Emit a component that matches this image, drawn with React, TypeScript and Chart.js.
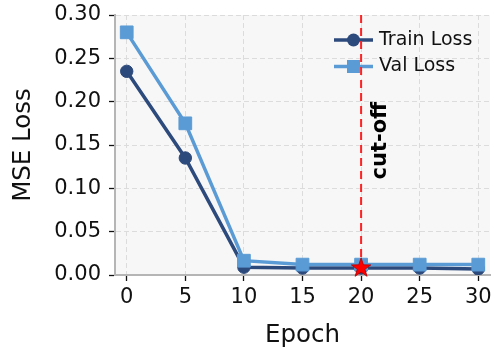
import React, { useEffect, useRef } from "react";
import { Chart, registerables } from "chart.js";

Chart.register(...registerables);

const epochs = [0, 5, 10, 15, 20, 25, 30];
const trainLoss = [0.235, 0.135, 0.009, 0.008, 0.008, 0.008, 0.007];
const valLoss = [0.28, 0.175, 0.0165, 0.012, 0.012, 0.012, 0.012];
const xTickValues = [0, 5, 10, 15, 20, 25, 30];
const yTickValues = [0, 0.05, 0.1, 0.15, 0.2, 0.25, 0.3];
const seriesLabels = ["Train Loss", "Val Loss"];
const cutoffEpoch = 20;
const cutoffLoss = 0.008;
const cutoffLabel = "cut-off";
const cutoffLabelLoss = 0.155;
const xTitle = "Epoch";
const yTitle = "MSE Loss";

const TRAIN_COLOR = "#2d4a7c";
const VAL_COLOR = "#5b9bd5";
const FONT = "'DejaVu Sans', sans-serif";

function drawStar(ctx: CanvasRenderingContext2D, cx: number, cy: number, R: number, r: number) {
  ctx.beginPath();
  for (let i = 0; i < 10; i++) {
    const rad = i % 2 === 0 ? R : r;
    const ang = -Math.PI / 2 + (i * Math.PI) / 5;
    const px = cx + rad * Math.cos(ang);
    const py = cy + rad * Math.sin(ang);
    if (i === 0) ctx.moveTo(px, py);
    else ctx.lineTo(px, py);
  }
  ctx.closePath();
}

const overlayPlugin = {
  id: "overlay",
  beforeDraw(chart: any) {
    const { ctx, chartArea: a } = chart;
    ctx.save();
    ctx.fillStyle = "#f7f7f7";
    ctx.fillRect(a.left, a.top, a.right - a.left, a.bottom - a.top);
    ctx.restore();
  },
  afterDatasetsDraw(chart: any) {
    const { ctx, chartArea: a, scales } = chart;
    const x = scales.x;
    const y = scales.y;

    // legend
    const lx0 = a.right - 156;
    const lx1 = a.right - 117;
    const mx = (lx0 + lx1) / 2;
    const tx = a.right - 111;
    const rows = [
      { yy: a.top + 25, color: TRAIN_COLOR, style: "circle", label: seriesLabels[0] },
      { yy: a.top + 51.5, color: VAL_COLOR, style: "rect", label: seriesLabels[1] },
    ];
    ctx.save();
    for (const row of rows) {
      ctx.strokeStyle = row.color;
      ctx.lineWidth = 3.5;
      ctx.setLineDash([]);
      ctx.beginPath();
      ctx.moveTo(lx0, row.yy);
      ctx.lineTo(lx1, row.yy);
      ctx.stroke();
      ctx.fillStyle = row.color;
      if (row.style === "circle") {
        ctx.beginPath();
        ctx.arc(mx, row.yy, 6.5, 0, Math.PI * 2);
        ctx.fill();
      } else {
        ctx.fillRect(mx - 6.5, row.yy - 6.5, 13, 13);
      }
      ctx.fillStyle = "#111";
      ctx.font = `19px ${FONT}`;
      ctx.textAlign = "left";
      ctx.textBaseline = "middle";
      ctx.fillText(row.label, tx, row.yy);
    }
    ctx.restore();

    // cut-off line
    const cx = x.getPixelForValue(cutoffEpoch);
    ctx.save();
    ctx.strokeStyle = "#ff2222";
    ctx.lineWidth = 2;
    ctx.setLineDash([8, 5]);
    ctx.beginPath();
    ctx.moveTo(cx, a.top);
    ctx.lineTo(cx, a.bottom);
    ctx.stroke();
    ctx.restore();

    // label
    ctx.save();
    ctx.translate(cx + 19, y.getPixelForValue(cutoffLabelLoss));
    ctx.rotate(-Math.PI / 2);
    ctx.font = `bold 21px ${FONT}`;
    ctx.fillStyle = "#000";
    ctx.textAlign = "center";
    ctx.textBaseline = "middle";
    ctx.fillText(cutoffLabel, 0, 0);
    ctx.restore();

    // star
    ctx.save();
    drawStar(ctx, cx, y.getPixelForValue(cutoffLoss), 10.2, 4.0);
    ctx.fillStyle = "#ff0000";
    ctx.fill();
    ctx.strokeStyle = "#b00000";
    ctx.lineWidth = 0.8;
    ctx.stroke();
    ctx.restore();
  },
};

export default function App() {
  const ref = useRef<HTMLCanvasElement>(null);
  useEffect(() => {
    document.body.style.margin = "0";
    const trainData = epochs.map((e, i) => ({ x: e, y: trainLoss[i] }));
    const valData = epochs.map((e, i) => ({ x: e, y: valLoss[i] }));
    const chart = new Chart(ref.current as HTMLCanvasElement, {
      type: "line",
      data: {
        datasets: [
          {
            label: seriesLabels[0],
            data: trainData,
            borderColor: TRAIN_COLOR,
            backgroundColor: TRAIN_COLOR,
            borderWidth: 3.5,
            pointStyle: "circle",
            pointRadius: 6.2,
            pointBorderWidth: 1,
            pointBackgroundColor: TRAIN_COLOR,
            pointBorderColor: TRAIN_COLOR,
            tension: 0,
            order: 2,
          },
          {
            label: seriesLabels[1],
            data: valData,
            borderColor: VAL_COLOR,
            backgroundColor: VAL_COLOR,
            borderWidth: 3.5,
            pointStyle: "rect",
            pointRadius: 9,
            pointBorderWidth: 1,
            pointBackgroundColor: VAL_COLOR,
            pointBorderColor: VAL_COLOR,
            tension: 0,
            order: 1,
          },
        ],
      },
      options: {
        animation: false,
        responsive: false,
        devicePixelRatio: 1,
        layout: { autoPadding: false, padding: { top: 15, right: 5, left: 0, bottom: 0 } },
        plugins: {
          legend: { display: false },
          tooltip: { enabled: false },
          title: { display: false },
        },
        scales: {
          x: {
            type: "linear",
            min: -1,
            max: 31,
            afterBuildTicks: (scale: any) => {
              scale.ticks = xTickValues.map((v) => ({ value: v }));
            },
            afterFit: (scale: any) => {
              scale.height = 74;
              scale.paddingLeft = 0;
              scale.paddingRight = 0;
              scale.paddingTop = 0;
              scale.paddingBottom = 0;
            },
            ticks: {
              font: { family: FONT, size: 21 },
              color: "#111",
              padding: 4,
              maxRotation: 0,
              autoSkip: false,
              callback: (v: any) => String(v),
            },
            grid: {
              color: "#dcdcdc",
              lineWidth: 1,
              drawTicks: true,
              tickLength: 6,
              tickColor: "#111",
              tickWidth: 1.3,
            },
            border: { display: true, color: "#b5b5b5", width: 2, dash: [5, 3] },
            title: {
              display: true,
              text: xTitle,
              font: { family: FONT, size: 24.5, lineHeight: 1 },
              color: "#111",
              padding: { top: 0, bottom: 1 },
            },
          },
          y: {
            type: "linear",
            min: 0,
            max: 0.3,
            afterBuildTicks: (scale: any) => {
              scale.ticks = yTickValues.map((v) => ({ value: v }));
            },
            afterFit: (scale: any) => {
              scale.width = 115;
              scale.paddingLeft = 0;
              scale.paddingRight = 0;
              scale.paddingTop = 0;
              scale.paddingBottom = 0;
            },
            ticks: {
              font: { family: FONT, size: 21 },
              color: "#111",
              padding: 8,
              autoSkip: false,
              callback: (v: any) => Number(v).toFixed(2),
            },
            grid: {
              color: "#dcdcdc",
              lineWidth: 1,
              drawTicks: true,
              tickLength: 6,
              tickColor: "#111",
              tickWidth: 1.3,
            },
            border: { display: true, color: "#b5b5b5", width: 2, dash: [5, 3] },
            title: {
              display: true,
              text: yTitle,
              font: { family: FONT, size: 24.5, lineHeight: 1 },
              color: "#111",
              padding: { top: 11, bottom: 0 },
            },
          },
        },
      },
      plugins: [overlayPlugin],
    } as any);
    return () => chart.destroy();
  }, []);
  return (
    <div style={{ position: "absolute", left: 0, top: 0, width: 495, height: 349 }}>
      <canvas ref={ref} width={495} height={349} style={{ display: "block", width: 495, height: 349 }} />
    </div>
  );
}
